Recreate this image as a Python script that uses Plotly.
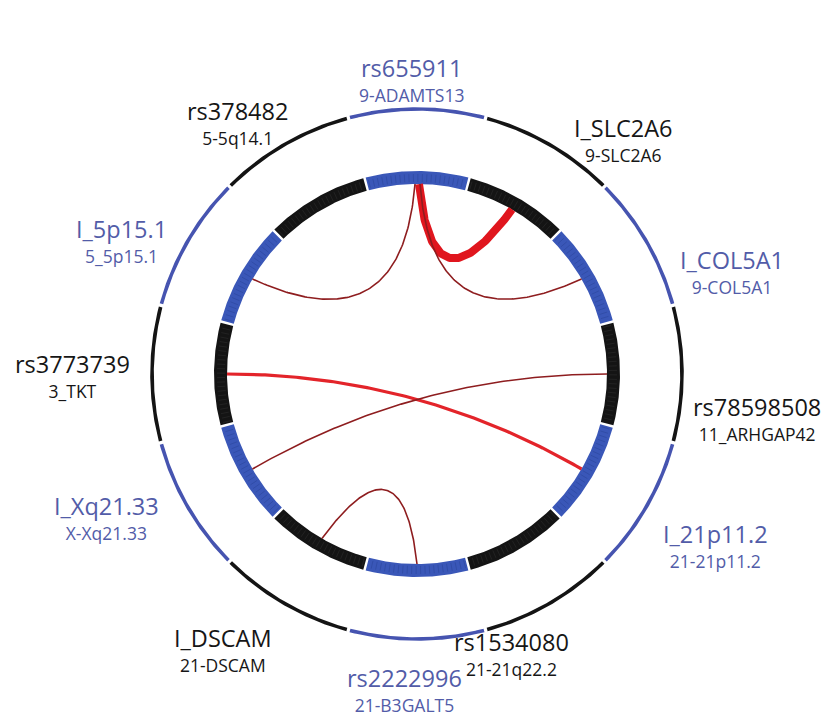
import numpy as np
import plotly.graph_objects as go

# ---------------- data ----------------
segment_names = ["rs655911", "I_SLC2A6", "I_COL5A1", "rs78598508", "I_21p11.2", "rs1534080",
                 "rs2222996", "I_DSCAM", "I_Xq21.33", "rs3773739", "I_5p15.1", "rs378482"]
segment_loci = ["9-ADAMTS13", "9-SLC2A6", "9-COL5A1", "11_ARHGAP42", "21-21p11.2", "21-21q22.2",
                "21-B3GALT5", "21-DSCAM", "X-Xq21.33", "3_TKT", "5_5p15.1", "5-5q14.1"]
segment_group = ["blue", "black", "blue", "black", "blue", "black",
                 "blue", "black", "blue", "black", "blue", "black"]
segment_size = [1, 1, 1, 1, 1, 1, 1, 1, 1, 1, 1, 1]

link_source = ["rs655911", "rs655911", "rs655911", "rs3773739", "rs78598508", "rs2222996"]
link_source_pos = [0.52, 0.48, 0.53, 0.50, 0.50, 0.50]
link_target = ["I_SLC2A6", "I_5p15.1", "I_COL5A1", "I_21p11.2", "I_Xq21.33", "I_DSCAM"]
link_target_pos = [0.50, 0.50, 0.50, 0.50, 0.50, 0.50]
link_strength = [3, 1, 1, 2, 1, 1]

# ---------------- layout / style ----------------
W, H = 829, 717
PAGE_OFFSET = 8          # default body margin of the html page
CX, CY = 417.0, 374.0
R_OUT, W_OUT = 265.0, 3.6
R_IN_O, R_IN_I = 203.0, 190.0
START_ANGLE = -15.0
GAP = 0.35

RING_COLORS = {"blue": "#3a57b8", "black": "#141414"}
TEXTURE_COLORS = {"blue": "#2f4aa3", "black": "#262626"}
OUTER_COLORS = {"blue": "#4654b0", "black": "#141414"}
TEXT_COLORS = {"blue": "#525ca8", "black": "#161616"}
LINK_STYLE = {3: dict(width=8, color="#e0161e"),
              2: dict(width=3.2, color="#e3242a"),
              1: dict(width=1.6, color="#8e1d1f")}
# label block placement (polar angle deg, radius px) per segment, in segment order
LABEL_POLAR = [(-1.0, 295), (41.4, 312), (71.9, 331), (97.4, 343), (119.9, 344), (161.4, 295),
               (182.2, 316), (215.1, 337), (245.2, 342), (269.8, 345), (294.4, 324), (324.4, 309)]
FONT = "Open Sans"
BIG, SMALL, BASE = 23.5, 17.5, 19

total = float(sum(segment_size))
seg_start = []
acc = 0.0
for s in segment_size:
    seg_start.append(START_ANGLE + 360.0 * acc / total)
    acc += s
seg_span = [360.0 * s / total for s in segment_size]
seg_index = {n: i for i, n in enumerate(segment_names)}


def pol(theta_deg, r):
    t = np.radians(theta_deg)
    return CX + r * np.sin(t), CY - r * np.cos(t)


def sector(a0, a1, r0, r1, n=80):
    th = np.linspace(a0, a1, n)
    xo, yo = pol(th, r1)
    xi, yi = pol(th[::-1], r0)
    return np.concatenate([xo, xi, xo[:1]]), np.concatenate([yo, yi, yo[:1]])


fig = go.Figure()

# rings
for i, name in enumerate(segment_names):
    a0 = seg_start[i] + GAP
    a1 = seg_start[i] + seg_span[i] - GAP
    g = segment_group[i]
    x, y = sector(a0, a1, R_IN_I, R_IN_O)
    fig.add_trace(go.Scatter(x=x, y=y, mode="lines", fill="toself", fillcolor=RING_COLORS[g],
                             line=dict(width=0), hoverinfo="skip", showlegend=False))
    # fine tick texture inside the ideogram
    tx, ty = [], []
    for th in np.arange(a0 + 0.6, a1 - 0.3, 1.3):
        x0, y0 = pol(th, R_IN_I + 2)
        x1, y1 = pol(th, R_IN_O - 3)
        tx += [x0, x1, None]
        ty += [y0, y1, None]
    fig.add_trace(go.Scatter(x=tx, y=ty, mode="lines", line=dict(width=0.8, color=TEXTURE_COLORS[g]),
                             hoverinfo="skip", showlegend=False))
    x, y = sector(a0, a1, R_OUT - W_OUT / 2, R_OUT + W_OUT / 2)
    fig.add_trace(go.Scatter(x=x, y=y, mode="lines", fill="toself", fillcolor=OUTER_COLORS[g],
                             line=dict(width=0), hoverinfo="skip", showlegend=False))

# links (quadratic bezier through a control point on the bisector)
for s, sp, t, tp, w in zip(link_source, link_source_pos, link_target, link_target_pos, link_strength):
    i, j = seg_index[s], seg_index[t]
    a = seg_start[i] + sp * seg_span[i]
    b = seg_start[j] + tp * seg_span[j]
    diff = (b - a + 180) % 360 - 180
    mid = a + diff / 2
    d = R_IN_I * max(0.0, 0.44 - 0.0047 * abs(diff))
    p0 = np.array(pol(a, R_IN_I))
    p2 = np.array(pol(b, R_IN_I))
    c = np.array(pol(mid, d))
    tt = np.linspace(0, 1, 120)[:, None]
    pts = (1 - tt) ** 2 * p0 + 2 * tt * (1 - tt) * c + tt ** 2 * p2
    st = LINK_STYLE[w]
    fig.add_trace(go.Scatter(x=pts[:, 0], y=pts[:, 1], mode="lines",
                             line=dict(width=st["width"], color=st["color"]),
                             hoverinfo="skip", showlegend=False))

# labels: one two-line text per segment
for i, name in enumerate(segment_names):
    ang, rr = LABEL_POLAR[i]
    x, y = pol(ang, rr)
    col = TEXT_COLORS[segment_group[i]]
    txt = (f"<span style='font-size:{BIG}px'>{name}</span><br>"
           f"<span style='font-size:{SMALL}px'>{segment_loci[i]}</span>")
    fig.add_annotation(x=x, y=y, text=txt, showarrow=False, align="center",
                       font=dict(family=FONT, size=BASE, color=col), xanchor="center", yanchor="middle")

fig.update_layout(width=W - PAGE_OFFSET, height=H - PAGE_OFFSET, margin=dict(l=0, r=0, t=0, b=0),
                  paper_bgcolor="white", plot_bgcolor="white",
                  xaxis=dict(range=[PAGE_OFFSET, W], visible=False, fixedrange=True),
                  yaxis=dict(range=[H, PAGE_OFFSET], visible=False, fixedrange=True))
fig.write_html("out.html")
